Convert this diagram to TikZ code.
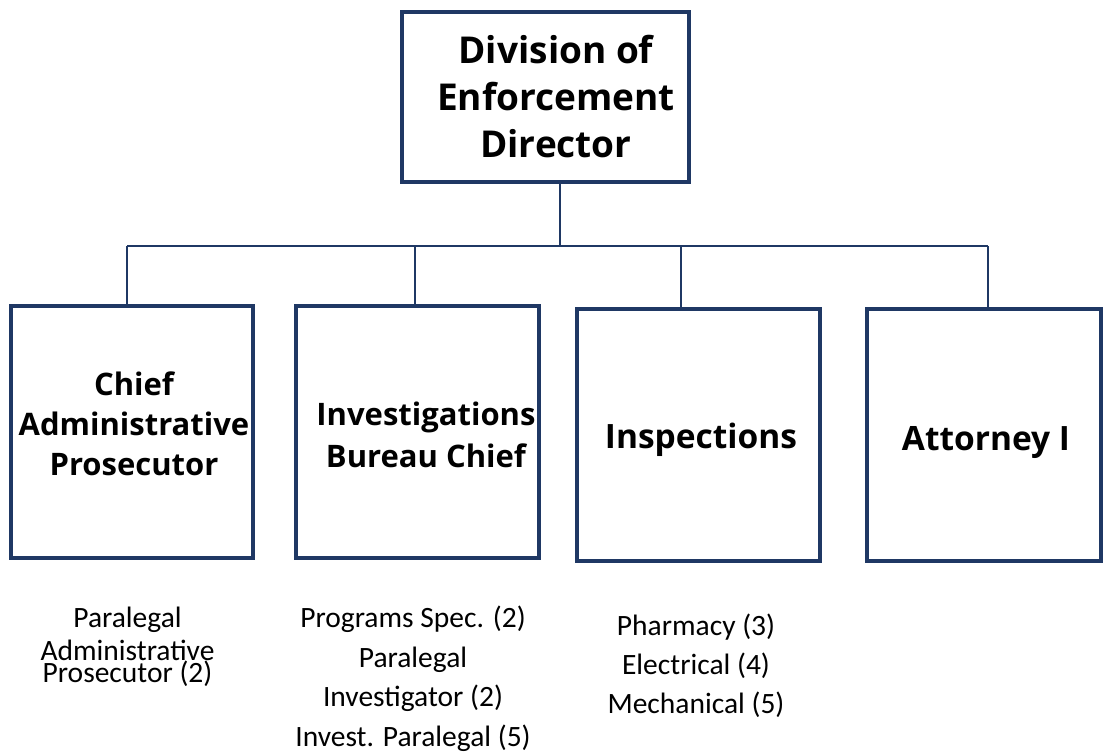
\documentclass[tikz,border=0pt]{standalone}
\usepackage{fontspec}
\setmainfont{Open Sans}
\newfontfamily\subfont{Carlito}
\newcommand\mytightlines{\lineskiplimit=-50pt\relax}
\definecolor{navy}{HTML}{1F3864}
\begin{document}
\begin{tikzpicture}[x=1pt,y=-1pt,
  box/.style={draw=navy,line width=4.5pt,fill=white,inner sep=0pt},
  title/.style={align=center,inner sep=0pt,anchor=base,
    font={\bfseries\fontsize{31}{40}\selectfont}},
  conn/.style={draw=navy,line width=2pt},
  sub/.style={align=center,inner sep=0pt,anchor=base,
    font={\subfont\fontsize{29.5}{39.5}\selectfont\mytightlines}}]
\useasboundingbox (0,0) rectangle (1104,753);
\fill[white] (0,0) rectangle (1104,753);
% boxes
\node[box,minimum width=287pt,minimum height=170pt] (top) at (545.5,97) {};
\node[box,minimum width=242pt,minimum height=252pt] (b1) at (132,432) {};
\node[box,minimum width=243pt,minimum height=252pt] (b2) at (417.5,432) {};
\node[box,minimum width=243pt,minimum height=252pt] (b3) at (698.5,435) {};
\node[box,minimum width=234pt,minimum height=252pt] (b4) at (984,435) {};
% titles (anchored at the baseline of their last line)
\node[title,font={\bfseries\fontsize{37}{47}\selectfont}] (topt) at (556,157) {Division of\\Enforcement\\Director};
\node[title] (t1) at (134,475) {Chief\\Administrative\\Prosecutor};
\node[title,font={\bfseries\fontsize{31}{42}\selectfont}] (t2) at (426,467) {Investigations\\Bureau Chief};
\node[title,font={\bfseries\fontsize{33.5}{40}\selectfont}] (t3) at (701,448) {Inspections};
\node[title,font={\bfseries\fontsize{33.5}{40}\selectfont}] (t4) at (986,450) {Attorney I};
% connectors
\coordinate (bus) at (560,246);
\coordinate (j1) at (127,246);
\coordinate (j2) at (415,246);
\coordinate (j3) at (681,246);
\coordinate (j4) at (988,246);
\draw[conn] (top.south -| bus) -- (bus);
\draw[conn] (j1) -- (j4);
\draw[conn] (j1) -- (j1 |- b1.north);
\draw[conn] (j2) -- (j2 |- b2.north);
\draw[conn] (j3) -- (j3 |- b3.north);
\draw[conn] (j4) -- (j4 |- b4.north);
% staff lists (anchored at the baseline of their last line)
\node[sub,font={\subfont\fontsize{29.5}{22}\selectfont\mytightlines}] (s1) at (127.5,682) {Paralegal\\[11pt]Administrative\\Prosecutor (2)};
\node[sub] (s2) at (413,746) {Programs Spec. (2)\\Paralegal\\Investigator (2)\\Invest. Paralegal (5)};
\node[sub,font={\subfont\fontsize{29.5}{39}\selectfont\mytightlines}] (s3) at (696,713) {Pharmacy (3)\\Electrical (4)\\Mechanical (5)};
\end{tikzpicture}
\end{document}
